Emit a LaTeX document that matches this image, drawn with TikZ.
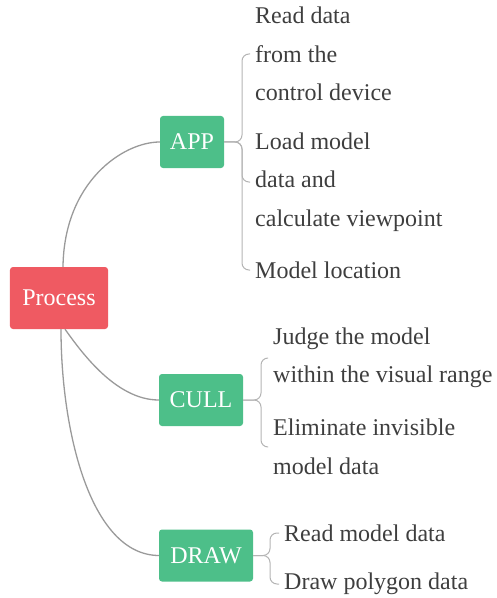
\documentclass[tikz,border=0pt]{standalone}
\usepackage{fontspec}
\setmainfont{Liberation Serif}
\definecolor{procred}{HTML}{EF5A62}
\definecolor{stepgreen}{HTML}{4DBF89}
\definecolor{linegray}{HTML}{9A9A9A}
\definecolor{bracegray}{HTML}{B4B4B4}
\definecolor{txtgray}{HTML}{3E3E3E}
\begin{document}
\begin{tikzpicture}[x=1bp,y=-1bp,
  mainbox/.style={rectangle,rounded corners=3bp,inner sep=0pt,text=white,
    font=\fontsize{24bp}{28bp}\selectfont},
  rootbox/.style={mainbox,fill=procred,minimum width=98bp,minimum height=62bp},
  stepbox/.style={mainbox,fill=stepgreen,minimum height=52bp},
  leaf/.style={anchor=west,inner xsep=5bp,inner ysep=0pt,align=left,text=txtgray,
    font=\fontsize{24bp}{38.5bp}\selectfont},
  conn/.style={draw=linegray,line width=1.3bp},
  brace/.style={draw=bracegray,line width=1bp,rounded corners=7bp}]
\useasboundingbox (0,0) rectangle (497,598);

\node[rootbox] (proc) at (59,298) {Process};
\node[stepbox,minimum width=64bp] (app) at (192,142) {APP};
\node[stepbox,minimum width=84bp] (cull) at (201,400) {CULL};
\node[stepbox,minimum width=94bp] (draw) at (206,555.5) {DRAW};

% APP leaves
\node[leaf] (a1) at (250,54) {Read data\\from the\\control device};
\node[leaf] (a2) at (250,182) {Load model\\data and\\calculate viewpoint};
\node[leaf] (a3) at (250,270) {Model location};
% CULL leaves
\node[leaf] (c1) at (268,358) {Judge the model\\within the visual range};
\node[leaf] (c2) at (268,447) {Eliminate invisible\\model data};
% DRAW leaves
\node[leaf] (d1) at (279,533) {Read model data};
\node[leaf] (d2) at (279,584) {Draw polygon data};

% main connectors
\draw[conn] ([xshift=4bp]proc.north) .. controls (64,182) and (123,142) .. (app.west);
\draw[conn] ([xshift=6bp]proc.south) .. controls (80,350) and (115,400) .. (cull.west);
\draw[conn] ([xshift=2bp]proc.south) .. controls (61,430) and (90,555) .. (draw.west);

% braces
\coordinate (ab) at (242,142);
\coordinate (cb) at (261,400);
\coordinate (db) at (270,555.5);
\draw[brace] (app.east) -- (ab) |- (a1.west);
\draw[brace] (app.east) -- (ab) |- (a2.west);
\draw[brace] (app.east) -- (ab) |- (a3.west);
\draw[brace] (cull.east) -- (cb) |- (c1.west);
\draw[brace] (cull.east) -- (cb) |- (c2.west);
\draw[brace] (draw.east) -- (db) |- (d1.west);
\draw[brace] (draw.east) -- (db) |- (d2.west);
\end{tikzpicture}
\end{document}
